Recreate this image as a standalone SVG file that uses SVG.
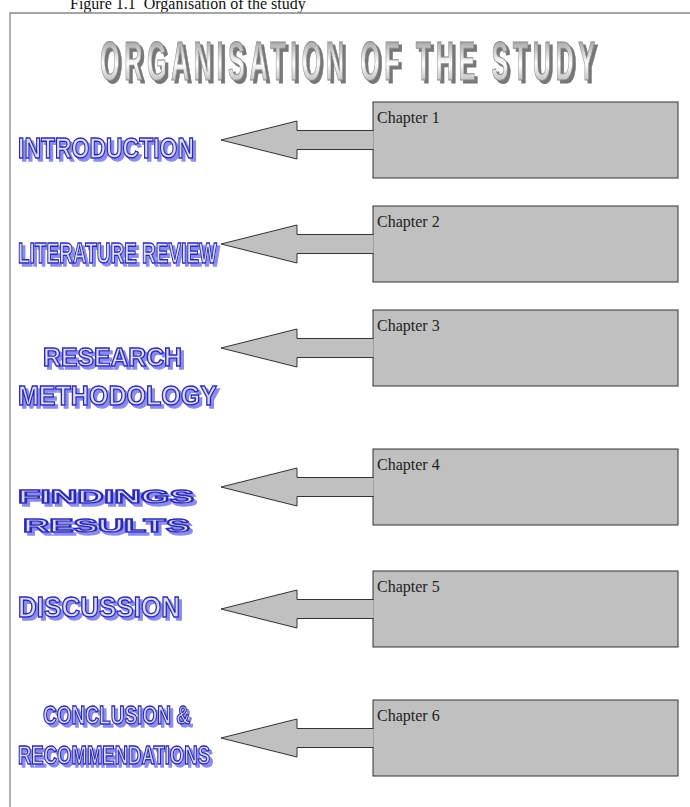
<svg xmlns="http://www.w3.org/2000/svg" width="690" height="807" viewBox="0 0 690 807">
<defs>
<linearGradient id="metal" x1="0" y1="0" x2="0" y2="1">
<stop offset="0" stop-color="#7a7a7a"/>
<stop offset="0.55" stop-color="#ffffff"/>
<stop offset="1" stop-color="#9a9a9a"/>
</linearGradient>
<filter id="bshadow" x="-5%" y="-20%" width="115%" height="150%">
<feOffset in="SourceAlpha" dx="3" dy="3" result="o"/>
<feFlood flood-color="#8a8af0"/>
<feComposite in2="o" operator="in" result="s"/>
<feMerge><feMergeNode in="s"/><feMergeNode in="SourceGraphic"/></feMerge>
</filter>
<filter id="gshadow" x="-5%" y="-20%" width="115%" height="150%">
<feOffset in="SourceAlpha" dx="6" dy="3" result="o"/>
<feFlood flood-color="#777777"/>
<feComposite in2="o" operator="in" result="s"/>
<feMerge><feMergeNode in="s"/><feMergeNode in="SourceGraphic"/></feMerge>
</filter>
<style>
.cap{font-family:"Liberation Serif","Times New Roman",serif;font-size:16px;fill:#111}
.title{font-family:"Liberation Sans",Arial,sans-serif;font-weight:bold;font-size:56px;fill:url(#metal);stroke:#8a8a8a;stroke-width:1}
.lbl{font-family:"Liberation Sans",Arial,sans-serif;font-weight:bold;fill:#dcdcec;stroke:#2a2ab8;stroke-width:1.4}
.box{fill:#c0c0c0;stroke:#333;stroke-width:1}
.arr{fill:#c0c0c0;stroke:#333;stroke-width:1;stroke-linejoin:miter}
.ch{font-family:"Liberation Serif","Times New Roman",serif;font-size:16px;fill:#222}
.frame{stroke:#888;stroke-width:1.3;fill:none}
</style>
</defs>
<rect width="690" height="807" fill="#fff"/>
<text class="cap" x="70" y="9" xml:space="preserve">Figure 1.1  Organisation of the study</text>
<path class="frame" d="M10,807 V13 H690"/>
<g id="title" transform="translate(100,0) scale(0.45,1)">
<text class="title" x="0" y="80" filter="url(#gshadow)" textLength="1100" lengthAdjust="spacing">ORGANISATION OF THE STUDY</text>
</g>
<g id="node-introduction">
<text class="lbl" x="18" y="158" font-size="29" filter="url(#bshadow)" textLength="176" lengthAdjust="spacingAndGlyphs">INTRODUCTION</text>
</g>
<g id="node-literature">
<text class="lbl" x="18" y="263" font-size="29" filter="url(#bshadow)" textLength="199" lengthAdjust="spacingAndGlyphs">LITERATURE REVIEW</text>
</g>
<g id="node-methodology">
<text class="lbl" x="43" y="366" font-size="25" filter="url(#bshadow)" textLength="139" lengthAdjust="spacingAndGlyphs">RESEARCH</text>
<text class="lbl" x="18" y="405" font-size="27" filter="url(#bshadow)" textLength="199" lengthAdjust="spacingAndGlyphs">METHODOLOGY</text>
</g>
<g id="node-findings">
<text class="lbl" x="18" y="503" font-size="19" filter="url(#bshadow)" textLength="176" lengthAdjust="spacingAndGlyphs">FINDINGS</text>
<text class="lbl" x="23" y="532" font-size="19" filter="url(#bshadow)" textLength="167" lengthAdjust="spacingAndGlyphs">RESULTS</text>
</g>
<g id="node-discussion">
<text class="lbl" x="18" y="617" font-size="29" filter="url(#bshadow)" textLength="162" lengthAdjust="spacingAndGlyphs">DISCUSSION</text>
</g>
<g id="node-conclusion">
<text class="lbl" x="43" y="724" font-size="25" filter="url(#bshadow)" textLength="147" lengthAdjust="spacingAndGlyphs">CONCLUSION &amp;</text>
<text class="lbl" x="18" y="764" font-size="25" filter="url(#bshadow)" textLength="192" lengthAdjust="spacingAndGlyphs">RECOMMENDATIONS</text>
</g>
<g id="node-ch1"><rect class="box" x="373" y="102" width="305" height="76"/><text class="ch" x="377" y="123">Chapter 1</text></g>
<g id="node-ch2"><rect class="box" x="373" y="206" width="305" height="76"/><text class="ch" x="377" y="227">Chapter 2</text></g>
<g id="node-ch3"><rect class="box" x="373" y="310" width="305" height="76"/><text class="ch" x="377" y="331">Chapter 3</text></g>
<g id="node-ch4"><rect class="box" x="373" y="449" width="305" height="76"/><text class="ch" x="377" y="470">Chapter 4</text></g>
<g id="node-ch5"><rect class="box" x="373" y="571" width="305" height="76"/><text class="ch" x="377" y="592">Chapter 5</text></g>
<g id="node-ch6"><rect class="box" x="373" y="700" width="305" height="76"/><text class="ch" x="377" y="721">Chapter 6</text></g>
<g id="connectors">
<path class="arr" d="M373.6,130.5 H297 V121 L221,140 L297,159 V149.5 H373.6"/>
<path class="arr" d="M373.6,234.5 H297 V225 L221,244 L297,263 V253.5 H373.6"/>
<path class="arr" d="M373.6,338.5 H297 V329 L221,348 L297,367 V357.5 H373.6"/>
<path class="arr" d="M373.6,477.5 H297 V468 L221,487 L297,506 V496.5 H373.6"/>
<path class="arr" d="M373.6,599.5 H297 V590 L221,609 L297,628 V618.5 H373.6"/>
<path class="arr" d="M373.6,728.5 H297 V719 L221,738 L297,757 V747.5 H373.6"/>
</g>
</svg>
